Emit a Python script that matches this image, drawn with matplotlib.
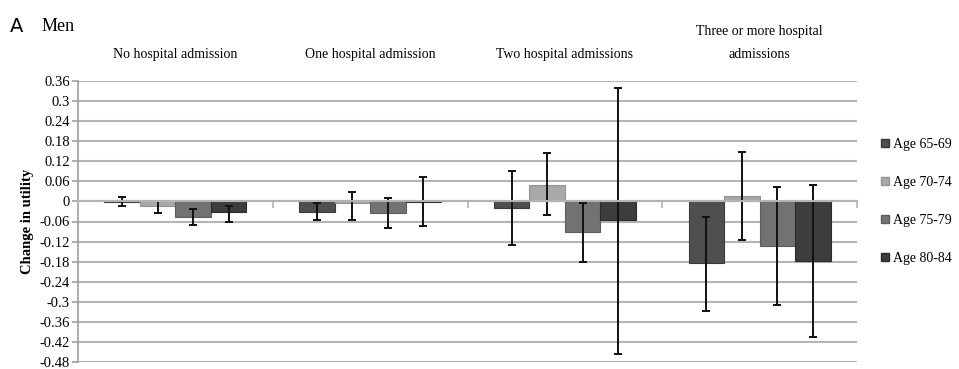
import matplotlib.pyplot as plt
import numpy as np
from matplotlib.patches import Patch
from matplotlib import font_manager

groups = ["No hospital admission", "One hospital admission",
          "Two hospital admissions", "Three or more hospital\nadmissions"]
ages = ["Age 65-69", "Age 70-74", "Age 75-79", "Age 80-84"]

# mean change in utility, one list per age band (across the 4 groups)
age65 = [-0.003, -0.031, -0.020, -0.185]
age70 = [-0.013, -0.004, 0.050, 0.016]
age75 = [-0.046, -0.034, -0.090, -0.132]
age80 = [-0.033, -0.003, -0.055, -0.177]

# confidence interval ends
lo65 = [-0.014, -0.056, -0.130, -0.327]
hi65 = [0.013, -0.006, 0.090, -0.046]
lo70 = [-0.034, -0.056, -0.040, -0.115]
hi70 = [0.002, 0.027, 0.145, 0.149]
lo75 = [-0.071, -0.078, -0.180, -0.310]
hi75 = [-0.024, 0.011, -0.006, 0.044]
lo80 = [-0.061, -0.073, -0.456, -0.405]
hi80 = [-0.014, 0.072, 0.338, 0.049]

yticks = [0.36, 0.3, 0.24, 0.18, 0.12, 0.06, 0, -0.06, -0.12, -0.18,
          -0.24, -0.3, -0.36, -0.42, -0.48]
ytick_labels = ["0.36", "0.3", "0.24", "0.18", "0.12", "0.06", "0", "-0.06",
                "-0.12", "-0.18", "-0.24", "-0.3", "-0.36", "-0.42", "-0.48"]

colors = ["#4f4f4f", "#a8a8a8", "#727272", "#3d3d3d"]
edges = ["#3a3a3a", "#949494", "#5e5e5e", "#2c2c2c"]

# pick a narrow serif face if one is installed
installed = {f.name for f in font_manager.fontManager.ttflist}
narrow = "Liberation Serif"
for cand in ["DejaVu Serif Condensed", "Liberation Sans Narrow"]:
    if cand in installed:
        narrow = cand
        break
serif = "Liberation Serif"
fs = 10 if narrow == "Liberation Serif" else 10.5

fig = plt.figure(figsize=(9.59, 3.69), dpi=100)
ax = fig.add_axes([78 / 959, 1 - 362 / 369, (857 - 78) / 959, (362 - 81) / 369])

series = [(age65, lo65, hi65), (age70, lo70, hi70),
          (age75, lo75, hi75), (age80, lo80, hi80)]
x = np.arange(len(groups))
w = 0.182
for i, (vals, lo, hi) in enumerate(series):
    vals = np.array(vals)
    err = [vals - np.array(lo), np.array(hi) - vals]
    ax.bar(x + (i - 1.5) * w, vals, w, color=colors[i], edgecolor=edges[i],
           linewidth=0.8, yerr=err, capsize=3,
           error_kw=dict(ecolor="#111111", elinewidth=1.4, capthick=1.4),
           zorder=2)

ax.set_xlim(-0.5, 3.5)
ax.set_ylim(-0.48, 0.36)
ax.set_yticks(yticks)
ax.set_yticklabels(ytick_labels, fontfamily=narrow, fontsize=fs + 0.5)
ax.yaxis.grid(True, color="#b4b4b4", linewidth=1.5)
ax.set_axisbelow(True)

for s in ["top", "right"]:
    ax.spines[s].set_visible(False)
ax.spines["left"].set_color("#a0a0a0")
ax.spines["left"].set_linewidth(1.2)
ax.spines["bottom"].set_position(("data", 0))
ax.spines["bottom"].set_color("#b4b4b4")
ax.spines["bottom"].set_linewidth(1.5)
ax.set_xticks([])
ax.set_xticks([0.5, 1.5, 2.5, 3.5], minor=True)
ax.tick_params(axis="x", which="minor", length=5, color="#b4b4b4", width=1.2)
ax.tick_params(axis="y", length=4, color="#a0a0a0", width=1.2, pad=2)

ax.set_ylabel("Change in utility", fontfamily=serif, fontweight="bold",
              fontsize=10.5, labelpad=4)

# group titles above the plot
for xi, g in zip(x, groups):
    ax.text(xi, 1.0 + 20 / 281, g, transform=ax.get_xaxis_transform(),
            ha="center", va="bottom", fontfamily=narrow, fontsize=fs,
            linespacing=1.95)

fig.text(10 / 959, 1 - 32 / 369, "A", fontfamily="DejaVu Sans", fontsize=14,
         va="baseline", ha="left")
fig.text(42 / 959, 1 - 31 / 369, "Men", fontfamily=serif, fontsize=13,
         va="baseline", ha="left")

handles = [Patch(facecolor=c, edgecolor=e) for c, e in zip(colors, edges)]
fig.legend(handles, ages, loc="upper left",
           bbox_to_anchor=(877 / 959, 1 - 134 / 369), frameon=False,
           prop=dict(family=narrow, size=fs), handlelength=0.55,
           handleheight=0.55, handletextpad=0.3, labelspacing=1.8,
           borderaxespad=0, borderpad=0.3)

fig.savefig("out.png", dpi=100)
